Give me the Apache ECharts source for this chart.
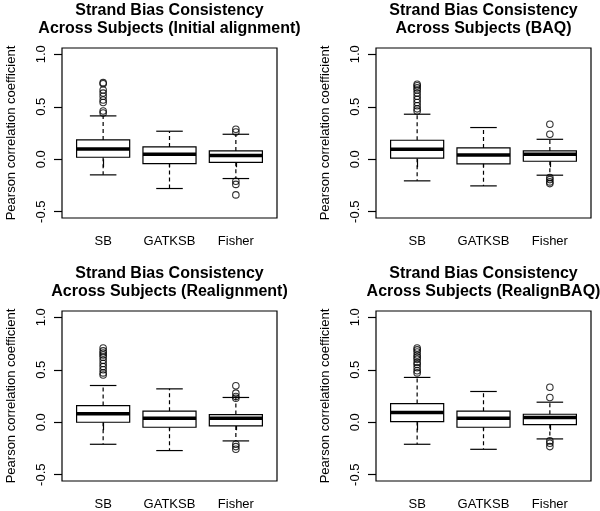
<!DOCTYPE html>
<html>
<head>
<meta charset="utf-8">
<script src="https://cdn.jsdelivr.net/npm/echarts@6/dist/echarts.min.js"></script>
<style>
html,body{margin:0;padding:0;background:#fff;}
#chart{width:600px;height:511px;}
</style>
</head>
<body>
<div id="chart"></div>
<script>
// ---------------- data ----------------
const categories = ['SB', 'GATKSB', 'Fisher'];
const yTicks = [-0.5, 0.0, 0.5, 1.0];
const yTitle = 'Pearson correlation coefficient';
const panelTitles = [
  'Strand Bias Consistency\nAcross Subjects (Initial alignment)',
  'Strand Bias Consistency\nAcross Subjects (BAQ)',
  'Strand Bias Consistency\nAcross Subjects (Realignment)',
  'Strand Bias Consistency\nAcross Subjects (RealignBAQ)'
];

// box stats per category: [lower whisker, Q1, median, Q3, upper whisker]
const initialStats = [
  [-0.149, 0.019, 0.098, 0.184, 0.413],
  [-0.279, -0.041, 0.048, 0.117, 0.267],
  [-0.184, -0.029, 0.035, 0.079, 0.238]
];
const initialOutSB = [0.44, 0.46, 0.54, 0.565, 0.60, 0.63, 0.66, 0.72, 0.73];
const initialOutGATKSB = [];
const initialOutFisher = [0.286, 0.26, -0.21, -0.24, -0.34];

const baqStats = [
  [-0.206, 0.010, 0.095, 0.181, 0.429],
  [-0.254, -0.044, 0.041, 0.108, 0.302],
  [-0.152, -0.019, 0.048, 0.079, 0.190]
];
const baqOutSB = [0.46, 0.48, 0.51, 0.54, 0.57, 0.60, 0.63, 0.66, 0.68, 0.70, 0.714];
const baqOutGATKSB = [];
const baqOutFisher = [0.333, 0.238, -0.175, -0.194, -0.216, -0.232];

const realignStats = [
  [-0.210, 0.000, 0.080, 0.159, 0.350],
  [-0.270, -0.048, 0.038, 0.105, 0.318],
  [-0.178, -0.035, 0.038, 0.073, 0.236]
];
const realignOutSB = [0.45, 0.47, 0.50, 0.53, 0.56, 0.59, 0.62, 0.64, 0.66, 0.68, 0.707];
const realignOutGATKSB = [];
const realignOutFisher = [0.347, 0.277, 0.245, 0.229, -0.21, -0.232, -0.258];

const realignBaqStats = [
  [-0.210, 0.006, 0.092, 0.178, 0.427],
  [-0.258, -0.048, 0.038, 0.105, 0.293],
  [-0.159, -0.022, 0.045, 0.076, 0.191]
];
const realignBaqOutSB = [0.47, 0.49, 0.52, 0.55, 0.57, 0.60, 0.62, 0.64, 0.67, 0.69, 0.707];
const realignBaqOutGATKSB = [];
const realignBaqOutFisher = [0.334, 0.236, -0.178, -0.200, -0.232];

// ---------------- layout ----------------
const FONT = '"Liberation Sans", Arial, Helvetica, sans-serif';
const panels = [
  { stats: initialStats, outs: [initialOutSB, initialOutGATKSB, initialOutFisher], left: 62, top: 48 },
  { stats: baqStats, outs: [baqOutSB, baqOutGATKSB, baqOutFisher], left: 376, top: 48 },
  { stats: realignStats, outs: [realignOutSB, realignOutGATKSB, realignOutFisher], left: 62, top: 311 },
  { stats: realignBaqStats, outs: [realignBaqOutSB, realignBaqOutGATKSB, realignBaqOutFisher], left: 376, top: 311 }
];
const GW = 215, GH = 170;

function renderBox(params, api) {
  const x = api.value(0);
  const lo = api.value(1), q1 = api.value(2), med = api.value(3), q3 = api.value(4), hi = api.value(5);
  const hw = 0.4, cw = 0.2;
  const c = (a, b) => api.coord([a, b]);
  const base = { stroke: '#000', lineWidth: 1.2, fill: null };
  const dashed = { stroke: '#000', lineWidth: 1.2, lineDash: [4, 3], fill: null };
  const line = (p1, p2, style) => ({ type: 'line', shape: { x1: p1[0], y1: p1[1], x2: p2[0], y2: p2[1] }, style: style });
  const tl = c(x - hw, q3), br = c(x + hw, q1);
  return {
    type: 'group',
    children: [
      line(c(x, q3), c(x, hi), dashed),
      line(c(x, q1), c(x, lo), dashed),
      line(c(x - cw, hi), c(x + cw, hi), base),
      line(c(x - cw, lo), c(x + cw, lo), base),
      { type: 'rect', shape: { x: tl[0], y: tl[1], width: br[0] - tl[0], height: br[1] - tl[1] }, style: { stroke: '#000', lineWidth: 1.2, fill: '#fff' } },
      line(c(x - hw, med), c(x + hw, med), { stroke: '#000', lineWidth: 3.5 })
    ]
  };
}

const option = {
  animation: false,
  backgroundColor: '#fff',
  title: [], grid: [], xAxis: [], yAxis: [], series: []
};

panels.forEach((p, i) => {
  option.title.push({
    text: panelTitles[i],
    left: p.left + GW / 2, top: p.top - 46, padding: 0,
    textAlign: 'center',
    textStyle: { fontFamily: FONT, fontWeight: 'bold', fontSize: 16, lineHeight: 18, color: '#000' }
  });
  option.grid.push({
    left: p.left, top: p.top, width: GW, height: GH,
    show: true, borderColor: '#000', borderWidth: 1.2, backgroundColor: 'transparent'
  });
  option.xAxis.push({
    gridIndex: i, type: 'value', min: 0.38, max: 3.62,
    axisLine: { show: false }, splitLine: { show: false },
    axisTick: { show: true, length: 8, customValues: [1, 2, 3], lineStyle: { color: '#000', width: 1.2 } },
    axisLabel: { customValues: [1, 2, 3], margin: 17, fontFamily: FONT, fontSize: 13, color: '#000',
      formatter: v => categories[Math.round(v) - 1] }
  });
  option.yAxis.push({
    gridIndex: i, type: 'value', min: -0.56, max: 1.06,
    name: yTitle, nameLocation: 'middle', nameGap: 44, nameRotate: 90,
    nameTextStyle: { fontFamily: FONT, fontSize: 13, color: '#000' },
    axisLine: { show: false }, splitLine: { show: false },
    axisTick: { show: true, length: 8, customValues: yTicks, lineStyle: { color: '#000', width: 1.2 } },
    axisLabel: { customValues: yTicks, rotate: 90, margin: 14, fontFamily: FONT, fontSize: 13, color: '#000',
      formatter: v => v.toFixed(1) }
  });
  option.series.push({
    type: 'custom', xAxisIndex: i, yAxisIndex: i,
    renderItem: renderBox,
    encode: { x: 0, y: [1, 2, 3, 4, 5] },
    data: p.stats.map((s, k) => [k + 1].concat(s)),
    z: 2
  });
  const outData = [];
  p.outs.forEach((arr, k) => arr.forEach(v => outData.push([k + 1, v])));
  option.series.push({
    type: 'scatter', xAxisIndex: i, yAxisIndex: i,
    symbol: 'circle', symbolSize: 6.5,
    itemStyle: { color: 'rgba(0,0,0,0)', borderColor: '#000', borderWidth: 1.1 },
    data: outData, z: 3
  });
});

const chart = echarts.init(document.getElementById('chart'), null, { renderer: 'canvas' });
chart.setOption(option);
</script>
</body>
</html>
